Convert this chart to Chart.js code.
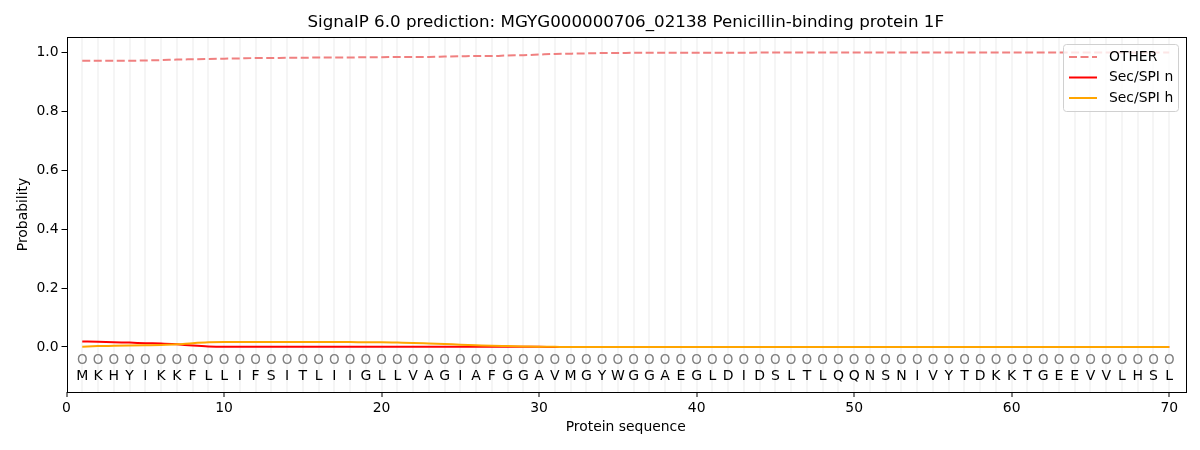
<!DOCTYPE html>
<html>
<head>
<meta charset="utf-8">
<script src="https://cdn.jsdelivr.net/npm/chart.js@4.4.1/dist/chart.umd.min.js"></script>
<style>
  body { margin: 0; background: #fff; }
</style>
</head>
<body>
<canvas id="signalChart" width="1200" height="450"></canvas>
<script>
var chartTitle = "SignalP 6.0 prediction: MGYG000000706_02138 Penicillin-binding protein 1F";

var positions = [1, 2, 3, 4, 5, 6, 7, 8, 9, 10, 11, 12, 13, 14, 15, 16, 17, 18, 19, 20,
    21, 22, 23, 24, 25, 26, 27, 28, 29, 30, 31, 32, 33, 34, 35, 36, 37, 38, 39, 40,
    41, 42, 43, 44, 45, 46, 47, 48, 49, 50, 51, 52, 53, 54, 55, 56, 57, 58, 59, 60,
    61, 62, 63, 64, 65, 66, 67, 68, 69, 70];

var residues = ["M", "K", "H", "Y", "I", "K", "K", "F", "L", "L", "I", "F", "S", "I", "T", "L", "I", "I", "G", "L",
    "L", "V", "A", "G", "I", "A", "F", "G", "G", "A", "V", "M", "G", "Y", "W", "G", "G", "A", "E", "G",
    "L", "D", "I", "D", "S", "L", "T", "L", "Q", "Q", "N", "S", "N", "I", "V", "Y", "T", "D", "K", "K",
    "T", "G", "E", "E", "V", "V", "L", "H", "S", "L"];

var regions = ["O", "O", "O", "O", "O", "O", "O", "O", "O", "O", "O", "O", "O", "O", "O", "O", "O", "O", "O", "O",
    "O", "O", "O", "O", "O", "O", "O", "O", "O", "O", "O", "O", "O", "O", "O", "O", "O", "O", "O", "O",
    "O", "O", "O", "O", "O", "O", "O", "O", "O", "O", "O", "O", "O", "O", "O", "O", "O", "O", "O", "O",
    "O", "O", "O", "O", "O", "O", "O", "O", "O", "O"];

var otherProb = [0.972, 0.972, 0.972, 0.972, 0.973, 0.974, 0.976, 0.977, 0.978, 0.979,
    0.980, 0.981, 0.981, 0.982, 0.982, 0.983, 0.983, 0.983, 0.984, 0.984,
    0.985, 0.985, 0.985, 0.986, 0.987, 0.988, 0.988, 0.990, 0.991, 0.993,
    0.995, 0.996, 0.997, 0.998, 0.998, 0.999, 0.999, 0.999, 0.999, 0.999,
    0.999, 0.999, 0.999, 1.0, 1.0, 1.0, 1.0, 1.0, 1.0, 1.0,
    1.0, 1.0, 1.0, 1.0, 1.0, 1.0, 1.0, 1.0, 1.0, 1.0,
    1.0, 1.0, 1.0, 1.0, 1.0, 1.0, 1.0, 1.0, 1.0, 1.0];

var secSpiN = [0.019, 0.018, 0.016, 0.015, 0.013, 0.012, 0.009, 0.005, 0.002, 0.001,
    0.001, 0.001, 0.001, 0.001, 0.001, 0.001, 0.001, 0.001, 0.001, 0.001,
    0.001, 0.001, 0.001, 0.001, 0.001, 0.001, 0.001, 0.001, 0.0005, 0.0005,
    0, 0, 0, 0, 0, 0, 0, 0, 0, 0,
    0, 0, 0, 0, 0, 0, 0, 0, 0, 0,
    0, 0, 0, 0, 0, 0, 0, 0, 0, 0,
    0, 0, 0, 0, 0, 0, 0, 0, 0, 0];

var secSpiH = [0.001, 0.003, 0.004, 0.005, 0.006, 0.007, 0.009, 0.013, 0.016, 0.017,
    0.017, 0.017, 0.017, 0.017, 0.017, 0.017, 0.017, 0.017, 0.016, 0.016,
    0.015, 0.014, 0.012, 0.010, 0.008, 0.006, 0.004, 0.003, 0.002, 0.001,
    0.0005, 0, 0, 0, 0, 0, 0, 0, 0, 0,
    0, 0, 0, 0, 0, 0, 0, 0, 0, 0,
    0, 0, 0, 0, 0, 0, 0, 0, 0, 0,
    0, 0, 0, 0, 0, 0, 0, 0, 0, 0];

var yTicks = [0.0, 0.2, 0.4, 0.6, 0.8, 1.0];
var xTicks = [0, 10, 20, 30, 40, 50, 60, 70];

var FONT = "'DejaVu Sans', sans-serif";

function toPoints(values) {
    return positions.map(function (p, i) { return { x: p, y: values[i] }; });
}

var seriesInfo = [
    { label: "OTHER", color: "#f08080", dash: [8, 3.5] },
    { label: "Sec/SPI n", color: "#ff0000", dash: [] },
    { label: "Sec/SPI h", color: "#ffa500", dash: [] }
];

// title, frame, residue letters and legend
var extras = {
    id: "extras",
    afterDraw: function (chart) {
        var c = chart.ctx, a = chart.chartArea;
        var xs = chart.scales.x, ys = chart.scales.y;
        c.save();
        c.fillStyle = "#000";
        c.font = "16.7px " + FONT;
        c.textAlign = "center";
        c.textBaseline = "middle";
        c.fillText(chartTitle, (a.left + a.right) / 2, 23);

        for (var i = 0; i < positions.length; i++) {
            var px = xs.getPixelForValue(positions[i]);
            c.font = "13.5px " + FONT;
            c.fillStyle = "#808080";
            c.fillText(regions[i], px, ys.getPixelForValue(-0.047));
            c.font = "14px " + FONT;
            c.fillStyle = "#000";
            c.fillText(residues[i], px, ys.getPixelForValue(-0.098));
        }

        c.strokeStyle = "#000";
        c.lineWidth = 1;
        c.setLineDash([]);
        c.strokeRect(Math.round(a.left) + 0.5, Math.round(a.top) + 0.5,
            Math.round(a.right - a.left), Math.round(a.bottom - a.top));

        // legend box
        var lx = a.right - 122, ly = a.top + 7, lw = 115, lh = 67;
        c.fillStyle = "rgba(255,255,255,0.8)";
        c.strokeStyle = "#d0d0d0";
        c.beginPath();
        c.roundRect(lx + 0.5, ly + 0.5, lw, lh, 3);
        c.fill();
        c.stroke();
        c.textAlign = "left";
        c.font = "13.9px " + FONT;
        for (var k = 0; k < seriesInfo.length; k++) {
            var ry = ly + 13 + k * 20.5;
            c.strokeStyle = seriesInfo[k].color;
            c.lineWidth = 2;
            c.setLineDash(seriesInfo[k].dash);
            c.beginPath();
            c.moveTo(lx + 6, ry);
            c.lineTo(lx + 34, ry);
            c.stroke();
            c.fillStyle = "#000";
            c.fillText(seriesInfo[k].label, lx + 46, ry);
        }
        c.restore();
    }
};

var ctx = document.getElementById("signalChart");
var signalChart = new Chart(ctx, {
    type: "line",
    data: {
        datasets: [
            {
                label: "OTHER",
                data: toPoints(otherProb),
                borderColor: "#f08080",
                borderDash: [8, 3.5],
                borderWidth: 2,
                pointRadius: 0,
                fill: false,
                cubicInterpolationMode: "monotone",
                order: 3
            },
            {
                label: "Sec/SPI n",
                data: toPoints(secSpiN),
                borderColor: "#ff0000",
                borderWidth: 2,
                pointRadius: 0,
                fill: false,
                cubicInterpolationMode: "monotone",
                order: 2
            },
            {
                label: "Sec/SPI h",
                data: toPoints(secSpiH),
                borderColor: "#ffa500",
                borderWidth: 2,
                pointRadius: 0,
                fill: false,
                cubicInterpolationMode: "monotone",
                order: 1
            }
        ]
    },
    options: {
        responsive: false,
        animation: false,
        devicePixelRatio: 1,
        layout: { padding: { left: 15, right: 15, top: 37, bottom: 14 } },
        plugins: {
            legend: { display: false },
            title: { display: false },
            tooltip: { enabled: false }
        },
        scales: {
            x: {
                type: "linear",
                min: 0,
                max: 71,
                border: { display: false },
                grid: {
                    color: function (c) {
                        var v = c.tick ? c.tick.value : 0;
                        return (v >= 1 && v <= 70) ? "#f5f5f5" : "rgba(0,0,0,0)";
                    },
                    lineWidth: 2,
                    tickColor: function (c) {
                        var v = c.tick ? c.tick.value : 1;
                        return xTicks.indexOf(v) >= 0 ? "#000" : "rgba(0,0,0,0)";
                    },
                    tickLength: 5,
                    tickWidth: 1
                },
                ticks: {
                    stepSize: 1,
                    autoSkip: false,
                    maxRotation: 0,
                    padding: 3,
                    color: "#000",
                    font: { family: FONT, size: 13.9 },
                    callback: function (v) {
                        return xTicks.indexOf(v) >= 0 ? String(v) : "";
                    }
                },
                title: {
                    display: true,
                    text: "Protein sequence",
                    color: "#000",
                    font: { family: FONT, size: 13.9 },
                    padding: { top: 0, bottom: 0 }
                },
                afterFit: function (s) { s.height = 44; }
            },
            y: {
                min: -0.1528,
                max: 1.0526,
                border: { display: false },
                grid: {
                    drawOnChartArea: false,
                    tickColor: "#000",
                    tickLength: 5,
                    tickWidth: 1
                },
                ticks: {
                    includeBounds: false,
                    stepSize: 0.2,
                    padding: 3,
                    color: "#000",
                    font: { family: FONT, size: 13.9 },
                    callback: function (v) {
                        var hit = yTicks.filter(function (t) { return Math.abs(t - v) < 1e-6; });
                        return hit.length ? hit[0].toFixed(1) : "";
                    }
                },
                title: {
                    display: true,
                    text: "Probability",
                    color: "#000",
                    font: { family: FONT, size: 13.9 },
                    padding: { top: 0, bottom: 4 }
                },
                afterFit: function (s) { s.width = 51.5; }
            }
        }
    },
    plugins: [extras]
});
</script>
</body>
</html>
